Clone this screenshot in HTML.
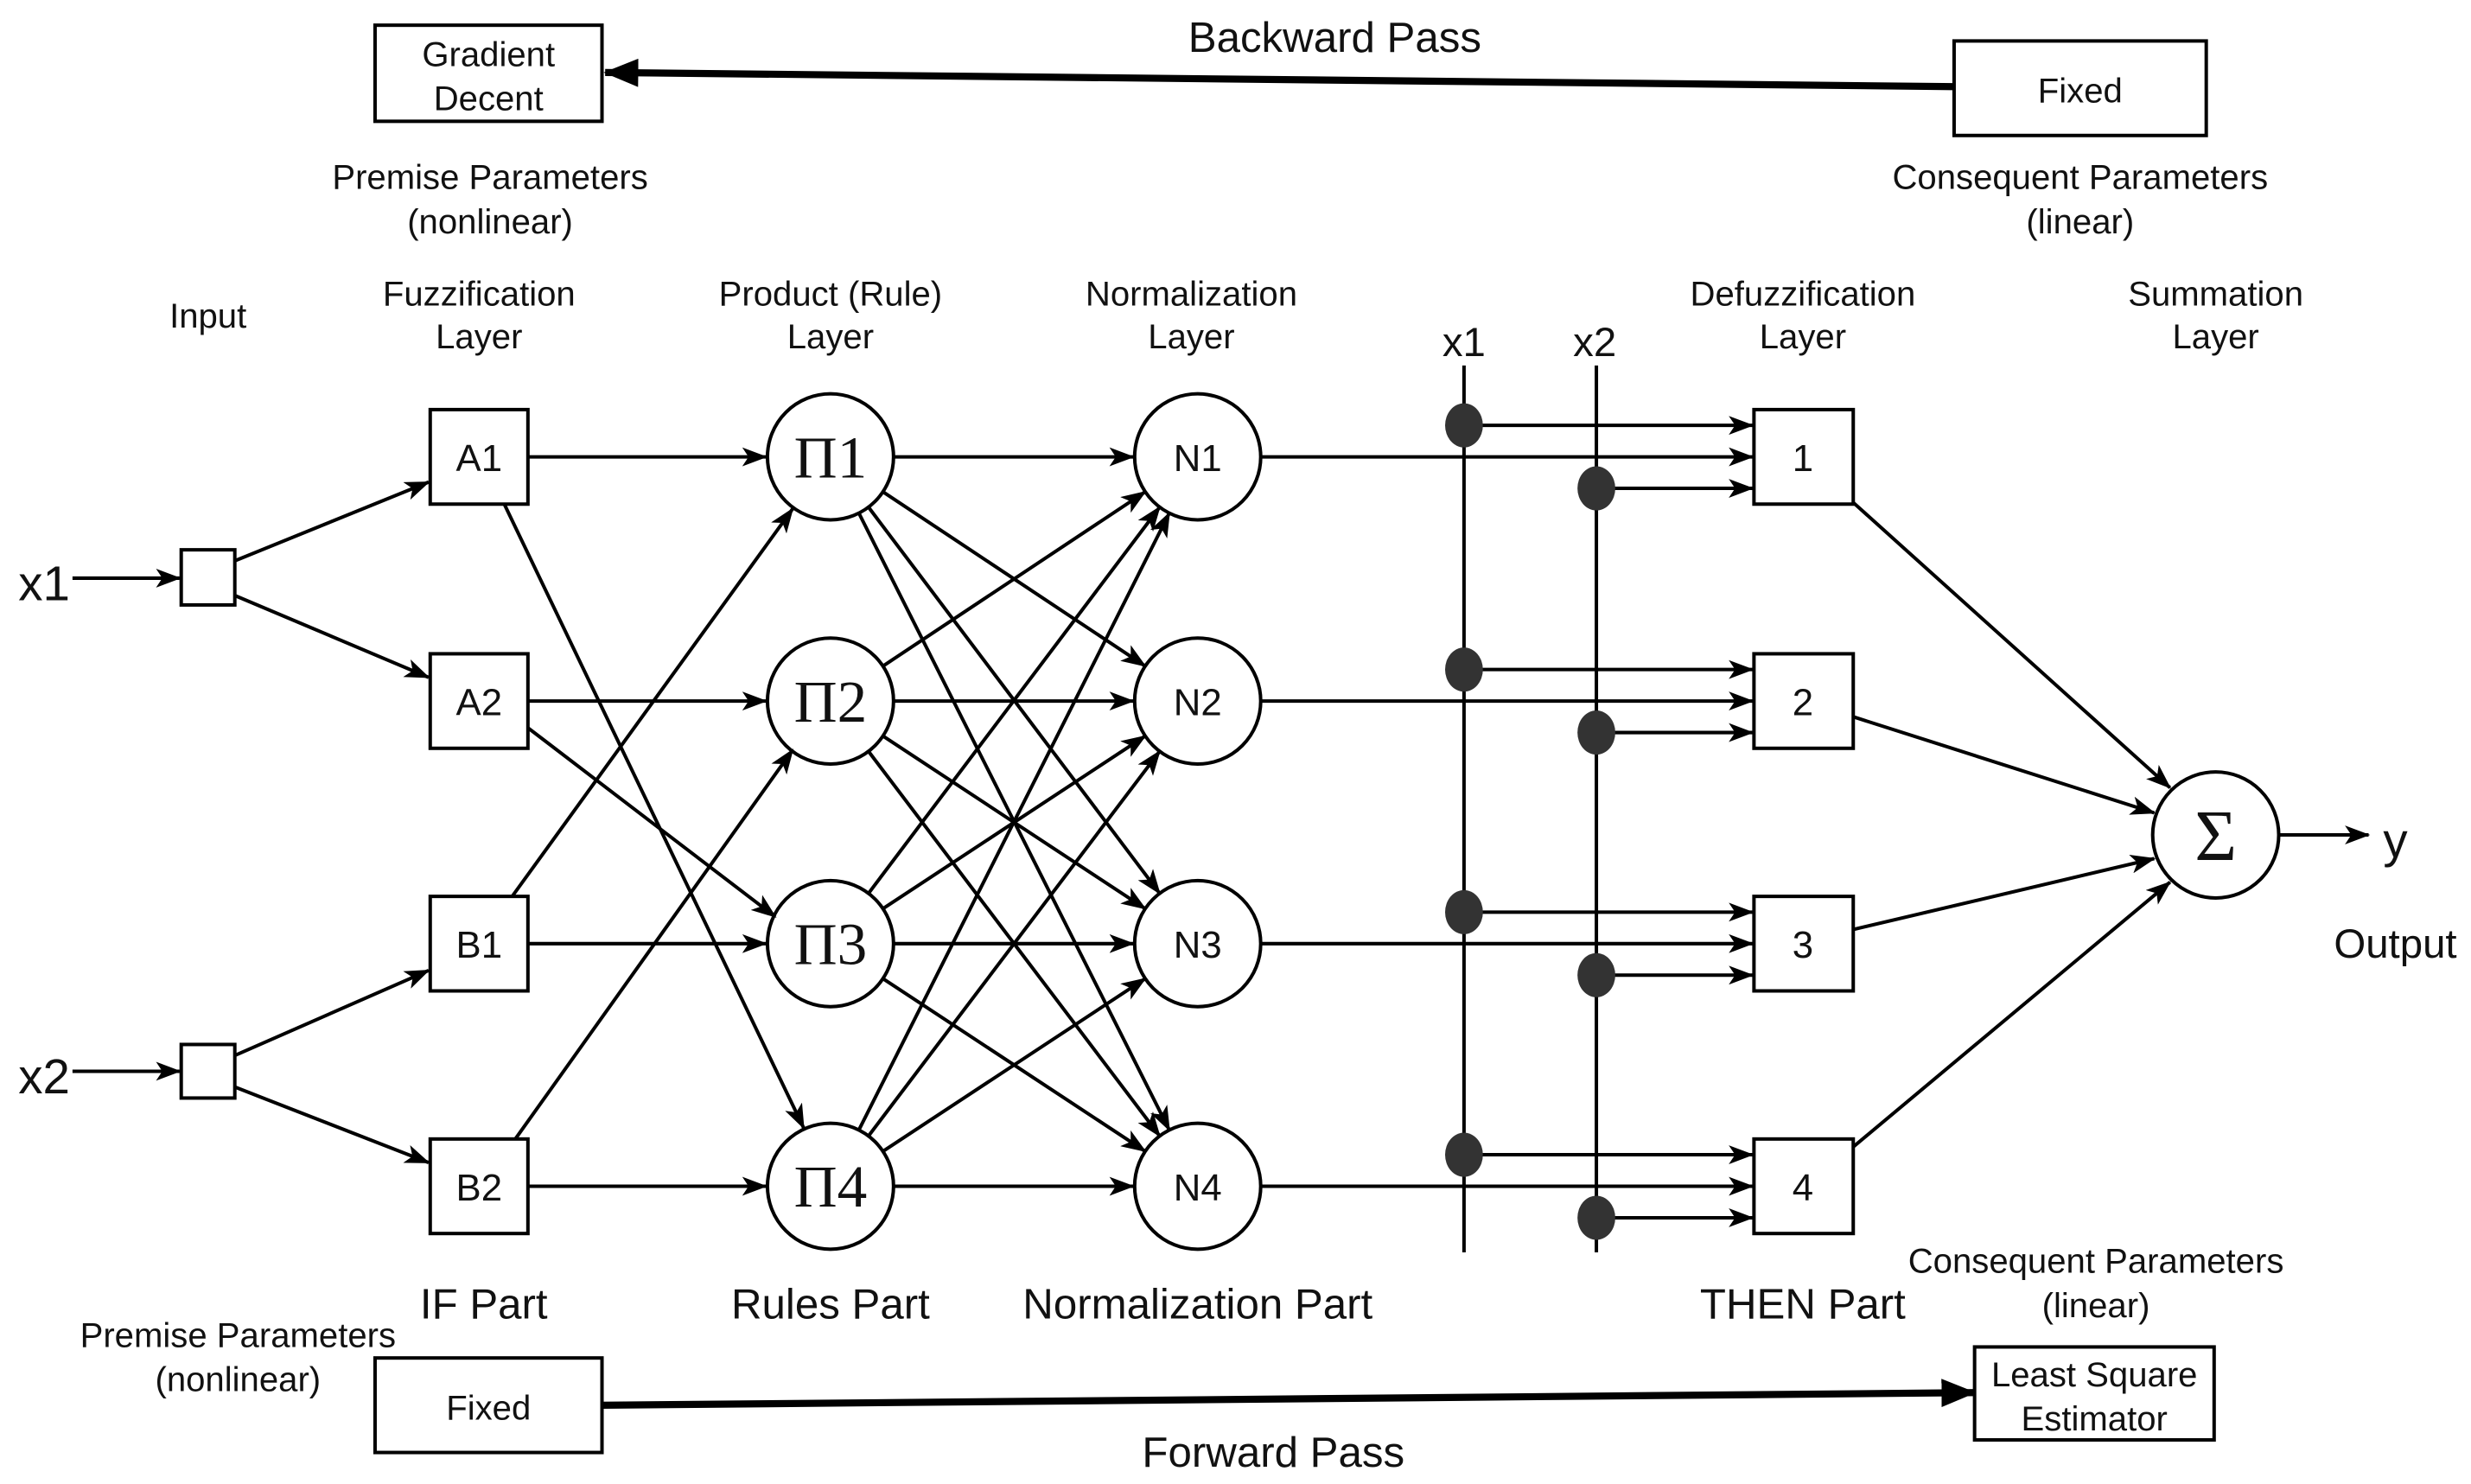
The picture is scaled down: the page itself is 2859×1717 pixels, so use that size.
<!DOCTYPE html>
<html><head><meta charset="utf-8"><style>html,body{margin:0;padding:0;background:#fff}svg{display:block}</style></head>
<body>
<svg width="2859" height="1717" viewBox="0 0 1568 942" preserveAspectRatio="none" xmlns="http://www.w3.org/2000/svg" font-family="Liberation Sans, Arial, sans-serif">
<defs>
<marker id="a" markerUnits="userSpaceOnUse" markerWidth="16" markerHeight="12" refX="15" refY="6" orient="auto"><path d="M0,0 L16,6 L0,12 L4,6 z" fill="#000"/></marker>
<marker id="b" markerUnits="userSpaceOnUse" markerWidth="22" markerHeight="18" refX="21" refY="9" orient="auto"><path d="M0,0 L22,9 L0,18 z" fill="#000"/></marker>
</defs>
<rect width="1568" height="942" fill="#fff"/>
<g fill="none" stroke="#000" stroke-width="2.2">
<rect x="238" y="16" width="144" height="61"/>
<rect x="1240" y="26" width="160" height="60"/>
<line x1="1240" y1="55" x2="384" y2="46" stroke-width="4.5" marker-end="url(#b)"/>
<rect x="238" y="862" width="144" height="60"/>
<rect x="1253" y="855" width="152" height="59"/>
<line x1="382" y1="892" x2="1253" y2="884" stroke-width="4.5" marker-end="url(#b)"/>
<rect x="115" y="349" width="34" height="35"/>
<rect x="115" y="663" width="34" height="34"/>
<line x1="46" y1="367" x2="114" y2="367" marker-end="url(#a)"/>
<line x1="46" y1="680" x2="114" y2="680" marker-end="url(#a)"/>
<line x1="149" y1="356" x2="272" y2="306" marker-end="url(#a)"/>
<line x1="149" y1="378" x2="272" y2="430" marker-end="url(#a)"/>
<line x1="149" y1="670" x2="272" y2="616" marker-end="url(#a)"/>
<line x1="149" y1="690" x2="272" y2="738" marker-end="url(#a)"/>
<rect x="273" y="260" width="62" height="60"/>
<rect x="273" y="415" width="62" height="60"/>
<rect x="273" y="569" width="62" height="60"/>
<rect x="273" y="723" width="62" height="60"/>
<line x1="335" y1="290" x2="486" y2="290" marker-end="url(#a)"/>
<line x1="335" y1="445" x2="486" y2="445" marker-end="url(#a)"/>
<line x1="335" y1="599" x2="486" y2="599" marker-end="url(#a)"/>
<line x1="335" y1="753" x2="486" y2="753" marker-end="url(#a)"/>
<line x1="320" y1="320" x2="510" y2="716" marker-end="url(#a)"/>
<line x1="335" y1="462" x2="492" y2="582" marker-end="url(#a)"/>
<line x1="325" y1="569" x2="503" y2="323" marker-end="url(#a)"/>
<line x1="327" y1="723" x2="503" y2="476" marker-end="url(#a)"/>
<circle cx="527" cy="290" r="40"/><circle cx="527" cy="445" r="40"/><circle cx="527" cy="599" r="40"/><circle cx="527" cy="753" r="40"/>
<circle cx="760" cy="290" r="40"/><circle cx="760" cy="445" r="40"/><circle cx="760" cy="599" r="40"/><circle cx="760" cy="753" r="40"/>
<line x1="567" y1="290" x2="719" y2="290" marker-end="url(#a)"/>
<line x1="567" y1="445" x2="719" y2="445" marker-end="url(#a)"/>
<line x1="567" y1="599" x2="719" y2="599" marker-end="url(#a)"/>
<line x1="567" y1="753" x2="719" y2="753" marker-end="url(#a)"/>
<line x1="560.3" y1="312.2" x2="726.7" y2="422.8" marker-end="url(#a)"/>
<line x1="551.1" y1="321.9" x2="735.9" y2="567.1" marker-end="url(#a)"/>
<line x1="545" y1="325.7" x2="742" y2="717.3" marker-end="url(#a)"/>
<line x1="560.3" y1="422.8" x2="726.7" y2="312.2" marker-end="url(#a)"/>
<line x1="560.3" y1="467.2" x2="726.7" y2="576.8" marker-end="url(#a)"/>
<line x1="551.1" y1="476.9" x2="735.9" y2="721.1" marker-end="url(#a)"/>
<line x1="551.1" y1="567.1" x2="735.9" y2="321.9" marker-end="url(#a)"/>
<line x1="560.3" y1="576.8" x2="726.7" y2="467.2" marker-end="url(#a)"/>
<line x1="560.3" y1="621.2" x2="726.7" y2="730.8" marker-end="url(#a)"/>
<line x1="545" y1="717.3" x2="742" y2="325.7" marker-end="url(#a)"/>
<line x1="551.1" y1="721.1" x2="735.9" y2="476.9" marker-end="url(#a)"/>
<line x1="560.3" y1="730.8" x2="726.7" y2="621.2" marker-end="url(#a)"/>
<line x1="929" y1="232" x2="929" y2="795"/>
<line x1="1013" y1="232" x2="1013" y2="795"/>
<rect x="1113" y="260" width="63" height="60"/>
<rect x="1113" y="415" width="63" height="60"/>
<rect x="1113" y="569" width="63" height="60"/>
<rect x="1113" y="723" width="63" height="60"/>
<line x1="800" y1="290" x2="1112" y2="290" marker-end="url(#a)"/>
<line x1="800" y1="445" x2="1112" y2="445" marker-end="url(#a)"/>
<line x1="800" y1="599" x2="1112" y2="599" marker-end="url(#a)"/>
<line x1="800" y1="753" x2="1112" y2="753" marker-end="url(#a)"/>
<line x1="940" y1="270" x2="1112" y2="270" marker-end="url(#a)"/>
<line x1="940" y1="425" x2="1112" y2="425" marker-end="url(#a)"/>
<line x1="940" y1="579" x2="1112" y2="579" marker-end="url(#a)"/>
<line x1="940" y1="733" x2="1112" y2="733" marker-end="url(#a)"/>
<line x1="1024" y1="310" x2="1112" y2="310" marker-end="url(#a)"/>
<line x1="1024" y1="465" x2="1112" y2="465" marker-end="url(#a)"/>
<line x1="1024" y1="619" x2="1112" y2="619" marker-end="url(#a)"/>
<line x1="1024" y1="773" x2="1112" y2="773" marker-end="url(#a)"/>
<circle cx="1406" cy="530" r="40"/>
<line x1="1176" y1="319" x2="1377" y2="500" marker-end="url(#a)"/>
<line x1="1176" y1="455" x2="1367" y2="516" marker-end="url(#a)"/>
<line x1="1176" y1="590" x2="1367" y2="545" marker-end="url(#a)"/>
<line x1="1176" y1="728" x2="1377" y2="560" marker-end="url(#a)"/>
<line x1="1446" y1="530" x2="1503" y2="530" marker-end="url(#a)"/>
</g>
<g fill="#333">
<ellipse cx="929" cy="270" rx="12" ry="14"/><ellipse cx="929" cy="425" rx="12" ry="14"/><ellipse cx="929" cy="579" rx="12" ry="14"/><ellipse cx="929" cy="733" rx="12" ry="14"/>
<ellipse cx="1013" cy="310" rx="12" ry="14"/><ellipse cx="1013" cy="465" rx="12" ry="14"/><ellipse cx="1013" cy="619" rx="12" ry="14"/><ellipse cx="1013" cy="773" rx="12" ry="14"/>
</g>
<g text-anchor="middle" fill="#111" font-size="22">
<text x="310" y="42">Gradient</text><text x="310" y="70">Decent</text>
<text x="1320" y="65">Fixed</text>
<text x="310" y="901">Fixed</text>
<text x="1329" y="880">Least Square</text><text x="1329" y="908">Estimator</text>
<text x="847" y="33" font-size="27">Backward Pass</text>
<text x="808" y="931" font-size="27">Forward Pass</text>
<text x="311" y="120">Premise Parameters</text><text x="311" y="148">(nonlinear)</text>
<text x="1320" y="120">Consequent Parameters</text><text x="1320" y="148">(linear)</text>
<text x="1330" y="808">Consequent Parameters</text><text x="1330" y="836">(linear)</text>
<text x="151" y="855">Premise Parameters</text><text x="151" y="883">(nonlinear)</text>
<text x="132" y="208">Input</text>
<text x="304" y="194">Fuzzification</text><text x="304" y="221">Layer</text>
<text x="527" y="194">Product (Rule)</text><text x="527" y="221">Layer</text>
<text x="756" y="194">Normalization</text><text x="756" y="221">Layer</text>
<text x="1144" y="194">Defuzzification</text><text x="1144" y="221">Layer</text>
<text x="1406" y="194">Summation</text><text x="1406" y="221">Layer</text>
<text x="929" y="226" font-size="26">x1</text><text x="1012" y="226" font-size="26">x2</text>
<text x="28" y="381" font-size="31">x1</text><text x="28" y="694" font-size="31">x2</text>
<text x="1520" y="544" font-size="31">y</text>
<text x="1520" y="608" font-size="26">Output</text>
<g font-size="24">
<text x="304" y="299">A1</text><text x="304" y="454">A2</text><text x="304" y="608">B1</text><text x="304" y="762">B2</text>
<text x="760" y="299">N1</text><text x="760" y="454">N2</text><text x="760" y="608">N3</text><text x="760" y="762">N4</text>
<text x="1144" y="299">1</text><text x="1144" y="454">2</text><text x="1144" y="608">3</text><text x="1144" y="762">4</text>
</g>
<g font-family="Liberation Serif, serif" font-size="38">
<text x="527" y="303">Π1</text><text x="527" y="458">Π2</text><text x="527" y="612">Π3</text><text x="527" y="766">Π4</text>
<text x="1406" y="546" font-size="46">Σ</text>
</g>
<g font-size="27">
<text x="307" y="837">IF Part</text><text x="527" y="837">Rules Part</text><text x="760" y="837">Normalization Part</text><text x="1144" y="837">THEN Part</text>
</g>
</g>
</svg>
</body></html>
